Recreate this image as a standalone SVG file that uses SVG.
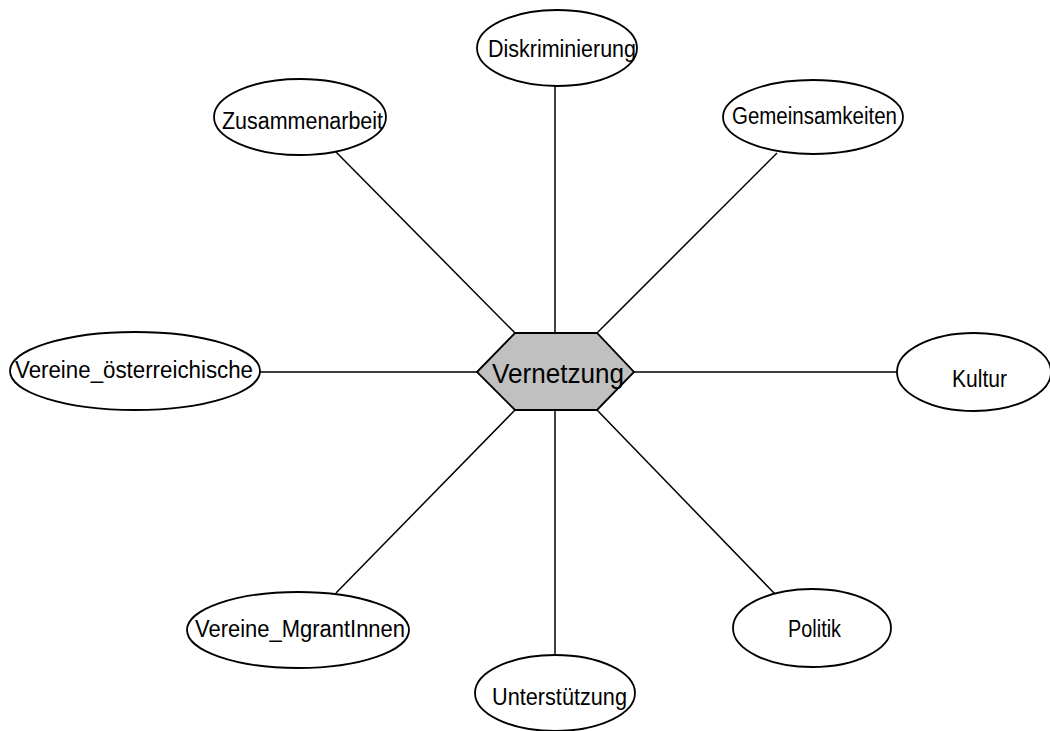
<svg xmlns="http://www.w3.org/2000/svg" width="1050" height="731" viewBox="0 0 1050 731">
  <style>
    .edge { stroke: #000; stroke-width: 1.5; fill: none; }
    .node ellipse { fill: #fff; stroke: #000; stroke-width: 1.8; }
    .node text { font-family: "Liberation Sans", Arial, sans-serif; font-size: 23px; fill: #000; }
    .hub polygon { fill: #c0c0c0; stroke: #000; stroke-width: 1.8; }
    .hub text { font-family: "Liberation Sans", Arial, sans-serif; font-size: 27px; fill: #000; }
  </style>
  <rect width="1050" height="731" fill="#fff"/>

  <!-- connectors from the hub to each topic -->
  <g id="connectors">
    <line class="edge" x1="555" y1="86" x2="555" y2="333"/>
    <line class="edge" x1="336" y1="152" x2="515" y2="333"/>
    <line class="edge" x1="777" y1="153" x2="597" y2="333"/>
    <line class="edge" x1="260" y1="372" x2="477" y2="372"/>
    <line class="edge" x1="634" y1="372" x2="897" y2="372"/>
    <line class="edge" x1="515" y1="410" x2="336" y2="593"/>
    <line class="edge" x1="555" y1="410" x2="555" y2="655"/>
    <line class="edge" x1="597" y1="410" x2="775" y2="594"/>
  </g>

  <g id="hub-vernetzung" class="hub">
    <polygon points="477,372 515,333 597,333 634,372 597,410 515,410"/>
    <text x="492" y="383" textLength="132" lengthAdjust="spacingAndGlyphs">Vernetzung</text>
  </g>

  <g id="node-diskriminierung" class="node">
    <ellipse cx="557" cy="48" rx="80" ry="38"/>
    <text x="488" y="57" textLength="148" lengthAdjust="spacingAndGlyphs">Diskriminierung</text>
  </g>

  <g id="node-zusammenarbeit" class="node">
    <ellipse cx="300" cy="117" rx="86" ry="38"/>
    <text x="222" y="129" textLength="161" lengthAdjust="spacingAndGlyphs">Zusammenarbeit</text>
  </g>

  <g id="node-gemeinsamkeiten" class="node">
    <ellipse cx="813" cy="117" rx="90" ry="37"/>
    <text x="732" y="124" textLength="165" lengthAdjust="spacingAndGlyphs">Gemeinsamkeiten</text>
  </g>

  <g id="node-vereine-oesterreichische" class="node">
    <ellipse cx="135" cy="371" rx="125" ry="39"/>
    <text x="15" y="378" textLength="238" lengthAdjust="spacingAndGlyphs">Vereine_österreichische</text>
  </g>

  <g id="node-kultur" class="node">
    <ellipse cx="974" cy="372" rx="77" ry="39"/>
    <text x="952" y="387" textLength="55" lengthAdjust="spacingAndGlyphs">Kultur</text>
  </g>

  <g id="node-vereine-migrantinnen" class="node">
    <ellipse cx="298" cy="630" rx="111" ry="38"/>
    <text x="195" y="637" textLength="210" lengthAdjust="spacingAndGlyphs">Vereine_MgrantInnen</text>
  </g>

  <g id="node-unterstuetzung" class="node">
    <ellipse cx="555" cy="693" rx="80" ry="38"/>
    <text x="492" y="705" textLength="135" lengthAdjust="spacingAndGlyphs">Unterstützung</text>
  </g>

  <g id="node-politik" class="node">
    <ellipse cx="812" cy="628" rx="79" ry="39"/>
    <text x="788" y="637" textLength="53" lengthAdjust="spacingAndGlyphs">Politik</text>
  </g>
</svg>
